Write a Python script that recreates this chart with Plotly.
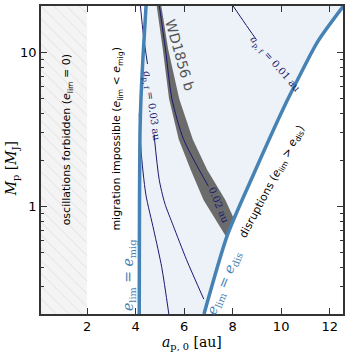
import numpy as np
import plotly.graph_objects as go

# boundaries (a in au, M in Jupiter masses)
emig_a = [4.15, 4.16, 4.18, 4.22, 4.30, 4.36, 4.43]
emig_m = [0.2, 1.0, 3.0, 5.0, 9.0, 13.0, 20.0]

edis_a = [6.82, 7.79, 8.85, 10.14, 10.55, 11.5, 12.62]
edis_m = [0.2, 0.655, 1.6, 4.49, 6.05, 11.7, 20.5]

# WD1856 b band
band_left_a = [4.87, 5.12, 5.38, 5.78, 6.27, 6.80, 7.72]
band_left_m = [20.0, 10.5, 4.97, 2.72, 1.73, 1.10, 0.64]
band_right_a = [5.06, 5.34, 5.80, 6.36, 6.95, 7.70, 8.04]
band_right_m = [20.0, 10.5, 4.97, 2.72, 1.73, 1.10, 0.84]

# final semimajor axis contours
c001_a = [8.02, 8.50, 8.96]
c001_m = [20.0, 15.5, 12.2]
c002_a = [4.98, 5.23, 5.50, 5.98, 7.00]
c002_m = [20.0, 10.5, 4.97, 2.72, 1.35]
c003_top_a = [4.20, 4.32, 4.49]
c003_top_m = [20.0, 13.0, 8.4]
c003_low_a = [4.76, 4.97, 5.20, 5.55, 6.10, 6.81]
c003_low_m = [2.93, 1.50, 1.05, 0.75, 0.45, 0.25]
c004_a = [4.15, 4.22, 4.42, 4.75, 5.08, 5.37]
c004_m = [4.0, 2.34, 1.2, 0.7, 0.4, 0.2]

hatch_a = [0.1, 2.0, 2.0, 0.1]
hatch_m = [0.2, 0.2, 20.0, 20.0]

xrange_ = [0.1, 12.55]
yrange_ = [0.2, 20.0]

blue = "#4682B4"
navy = "#191970"

fig = go.Figure()

# forbidden region
fig.add_trace(go.Scatter(x=hatch_a, y=hatch_m, fill="toself", mode="none",
                         fillcolor="#f4f4f4",
                         fillpattern=dict(shape="\\", fgcolor="#bdbdbd", bgcolor="#f4f4f4",
                                          size=9, solidity=0.08)))

# allowed region between e_mig and e_dis
fill_a = emig_a + [xrange_[1] + 0.1] + edis_a[::-1]
fill_m = emig_m + [yrange_[1] + 0.5] + edis_m[::-1]
fig.add_trace(go.Scatter(x=fill_a, y=fill_m, fill="toself", mode="none",
                         fillcolor="#ECF2F8"))

# WD1856 b band
fig.add_trace(go.Scatter(x=band_left_a + band_right_a[::-1],
                         y=band_left_m + band_right_m[::-1],
                         fill="toself", mode="none", fillcolor="#6b6b6b"))

for xs, ys in [(c001_a, c001_m), (c002_a, c002_m), (c003_top_a, c003_top_m),
               (c003_low_a, c003_low_m), (c004_a, c004_m)]:
    fig.add_trace(go.Scatter(x=xs, y=ys, mode="lines",
                             line=dict(color=navy, width=1, shape="spline", smoothing=0.7)))

for xs, ys in [(emig_a, emig_m), (edis_a, edis_m)]:
    fig.add_trace(go.Scatter(x=xs, y=ys, mode="lines",
                             line=dict(color=blue, width=3.5, shape="spline", smoothing=0.7)))

def note(a, m, text, angle, size=11, color="black", family="DejaVu Sans"):
    fig.add_annotation(x=a, y=np.log10(m), xref="x", yref="y", text=text,
                       textangle=angle, showarrow=False,
                       font=dict(size=size, color=color, family=family))

note(1.21, 2.72, "oscillations forbidden (<i>e</i><sub>lim</sub> = 0)", -90)
note(3.23, 2.75, "migration impossible (<i>e</i><sub>lim</sub> &lt; <i>e</i><sub>mig</sub>)", -90)
note(3.70, 0.36, "<i>e</i><sub>lim</sub> = <i>e</i><sub>mig</sub>", -90, size=14,
     color=blue, family="DejaVu Serif")
note(7.64, 0.32, "<i>e</i><sub>lim</sub> = <i>e</i><sub>dis</sub>", -68, size=14,
     color=blue, family="DejaVu Serif")
note(9.62, 1.45, "disruptions (<i>e</i><sub>lim</sub> &gt; <i>e</i><sub>dis</sub>)", -62)
note(5.82, 9.6, "WD1856 b", 74, size=14, color="#555555")
note(4.65, 4.47, "<i>a</i><sub>p, f</sub> = 0.03 au", 82, size=10, color=navy,
     family="DejaVu Serif")
note(7.45, 1.02, "0.02 au", 68, size=10, color=navy, family="DejaVu Serif")
note(9.75, 8.4, "<i>a</i><sub>p, f</sub> = 0.01 au", 49, size=10, color=navy,
     family="DejaVu Serif")

# axis titles
fig.add_annotation(x=0.5, y=0, xref="paper", yref="paper", yshift=-29,
                   xanchor="center", yanchor="middle",
                   text="<i>a</i><sub>p, 0</sub> [au]", showarrow=False,
                   font=dict(family="DejaVu Serif", size=14, color="black"))
fig.add_annotation(x=0, y=0.47, xref="paper", yref="paper", xshift=-29,
                   xanchor="center", yanchor="middle",
                   text="<i>M</i><sub>p</sub> [<i>M</i><sub>J</sub>]", showarrow=False,
                   textangle=-90, font=dict(family="DejaVu Serif", size=14, color="black"))

axis_common = dict(showline=True, linecolor="#333333", linewidth=1.5, mirror="allticks",
                   ticks="inside", ticklen=6, tickwidth=1.2, tickcolor="#333333",
                   showgrid=False, zeroline=False, automargin=False,
                   tickfont=dict(family="DejaVu Sans", size=13, color="black"))

fig.update_layout(
    width=357, height=357,
    margin=dict(l=41, r=14, t=6, b=43),
    plot_bgcolor="white", paper_bgcolor="white",
    showlegend=False,
    xaxis=dict(range=xrange_, tickvals=[2, 4, 6, 8, 10, 12], **axis_common),
    yaxis=dict(type="log", range=[np.log10(yrange_[0]), np.log10(yrange_[1])],
               tickvals=[1, 10], ticktext=["1", "10"],
               minor=dict(tickvals=[0.2, 0.3, 0.4, 0.5, 0.6, 0.7, 0.8, 0.9,
                                    2, 3, 4, 5, 6, 7, 8, 9, 20],
                          ticks="inside", ticklen=3, tickcolor="#333333"),
               **axis_common),
)

fig.write_html("out.html", config={"displayModeBar": False},
               post_script="document.body.style.margin='0';")
